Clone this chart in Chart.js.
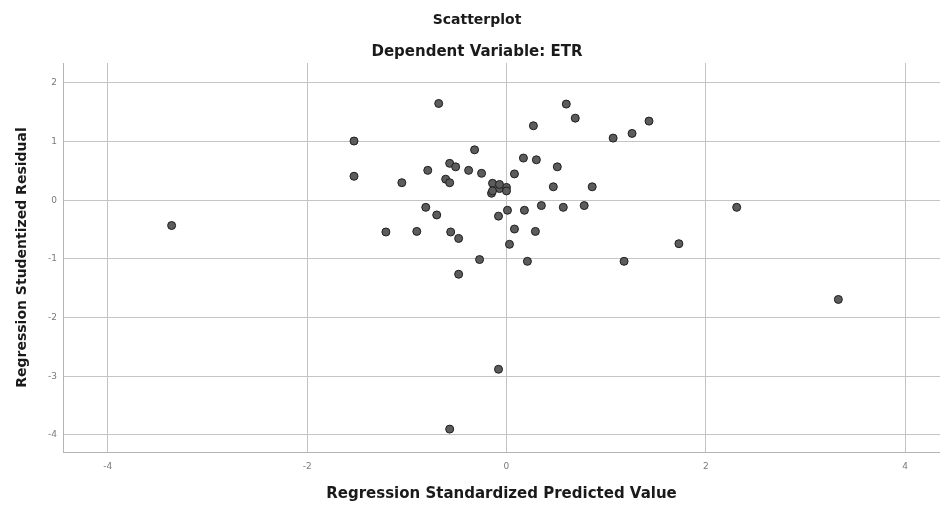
<!DOCTYPE html>
<html>
<head>
<meta charset="utf-8">
<script src="https://cdn.jsdelivr.net/npm/chart.js@4.4.1/dist/chart.umd.min.js"></script>
<style>
  body { margin: 0; background: #fff; overflow: hidden; }
  #wrap { width: 940px; height: 506px; }
</style>
</head>
<body>
<div id="wrap"><canvas id="scatter"></canvas></div>
<script>
// predicted value (x) and studentized residual (y)
const predicted = [
  -0.68, 0.60, 0.69, 0.27, 1.43, 1.26, 1.07, -1.53, -0.32, 0.17,
  0.30, 0.51, -0.57, -0.51, -0.79, -0.38, -0.25, 0.08, -1.53, -1.05,
  -0.61, -0.57, -0.14, -0.07, 0.00, 0.00, -0.15, 0.47, 0.86, -0.81,
  -0.70, -0.08, 0.01, 0.18, 0.35, 0.57, 0.78, -1.21, -0.90, -0.56,
  -0.48, 0.08, 0.29, 0.03, -0.27, 0.21, 1.18, -0.48, 3.33, 1.73,
  2.31, -3.36, -0.08, -0.57, -0.07, -0.14
];
const residual = [
  1.65, 1.64, 1.40, 1.27, 1.35, 1.14, 1.06, 1.01, 0.86, 0.72,
  0.69, 0.57, 0.63, 0.57, 0.51, 0.51, 0.46, 0.45, 0.41, 0.30,
  0.36, 0.30, 0.29, 0.20, 0.22, 0.16, 0.12, 0.23, 0.23, -0.12,
  -0.25, -0.27, -0.17, -0.17, -0.09, -0.12, -0.09, -0.54, -0.53, -0.54,
  -0.65, -0.49, -0.53, -0.75, -1.01, -1.04, -1.04, -1.26, -1.69, -0.74,
  -0.12, -0.43, -2.88, -3.90, 0.27, 0.16
];
const xTicks = [-4, -2, 0, 2, 4];
const yTicks = [2, 1, 0, -1, -2, -3, -4];

const chartTitle = 'Scatterplot';
const chartSubtitle = 'Dependent Variable: ETR';
const xTitle = 'Regression Standardized Predicted Value';
const yTitle = 'Regression Studentized Residual';

const points = predicted.map((x, i) => ({ x: x, y: residual[i] }));

// SPSS style heading, a bit right of the canvas middle
const headings = {
  id: 'headings',
  afterDraw(chart) {
    const ctx = chart.ctx;
    ctx.save();
    ctx.fillStyle = '#1a1a1a';
    ctx.textAlign = 'center';
    ctx.textBaseline = 'middle';
    ctx.font = 'bold 14px "DejaVu Sans"';
    ctx.fillText(chartTitle, 477, 20);
    ctx.font = 'bold 15px "DejaVu Sans"';
    ctx.fillText(chartSubtitle, 477, 52);
    ctx.restore();
  }
};

const gridColor = '#c4c4c4';

new Chart(document.getElementById('scatter'), {
  type: 'scatter',
  data: {
    datasets: [{
      data: points,
      backgroundColor: '#5c5c5c',
      borderColor: '#1e1e1e',
      borderWidth: 1,
      pointRadius: 4,
      pointHoverRadius: 4
    }]
  },
  options: {
    responsive: true,
    maintainAspectRatio: false,
    animation: false,
    layout: { autoPadding: false, padding: { top: 63, right: 0, left: 0, bottom: 0 } },
    plugins: {
      legend: { display: false },
      tooltip: { enabled: false }
    },
    scales: {
      x: {
        type: 'linear',
        min: -4.45,
        max: 4.35,
        afterBuildTicks: s => { s.ticks = xTicks.map(v => ({ value: v })); },
        afterFit: s => { s.height = 54; s.paddingLeft = 0; s.paddingRight = 0; },
        grid: { color: gridColor, drawTicks: false },
        border: { color: '#b4b4b4' },
        ticks: {
          padding: 9,
          color: '#7a7a7a',
          font: { family: 'DejaVu Sans', size: 9 }
        },
        title: {
          display: true,
          text: xTitle,
          color: '#1a1a1a',
          font: { family: 'DejaVu Sans', size: 15, weight: 'bold' },
          padding: { top: 0, bottom: 3 }
        }
      },
      y: {
        type: 'linear',
        min: -4.29,
        max: 2.34,
        afterBuildTicks: s => { s.ticks = yTicks.map(v => ({ value: v })); },
        afterFit: s => { s.width = 63; },
        grid: { color: gridColor, drawTicks: false },
        border: { color: '#b4b4b4' },
        ticks: {
          padding: 6,
          color: '#7a7a7a',
          font: { family: 'DejaVu Sans', size: 9 }
        },
        title: {
          display: true,
          text: yTitle,
          color: '#1a1a1a',
          font: { family: 'DejaVu Sans', size: 14, weight: 'bold' },
          padding: { top: 14, bottom: 0 }
        }
      }
    }
  },
  plugins: [headings]
});
</script>
</body>
</html>
